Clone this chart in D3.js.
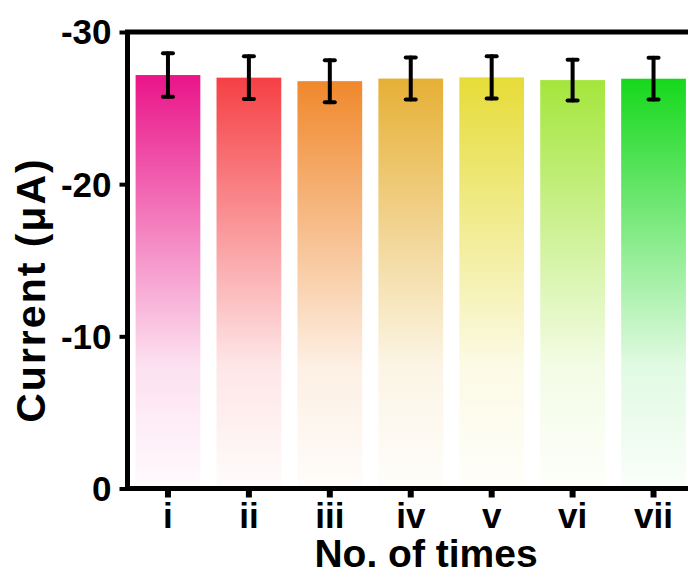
<!doctype html>
<html lang="en">
<head>
<meta charset="UTF-8" />
<title>Current vs No. of times</title>
<script src="https://d3js.org/d3.v7.min.js"></script>
<style>
  html, body { margin: 0; padding: 0; background: #fff; }
  text { font-family: "Liberation Sans", Arial, sans-serif; font-weight: bold; }
</style>
</head>
<body>
<div id="chart"></div>
<script>
var categories = ['i', 'ii', 'iii', 'iv', 'v', 'vi', 'vii'];
var currents = [-27.17, -27.0, -26.77, -26.94, -27.02, -26.84, -26.93];
var errors = [1.43, 1.41, 1.38, 1.38, 1.39, 1.34, 1.37];
var barColors = ['#ea1489', '#f54045', '#f0882c', '#e6b035', '#e6dc38', '#a4e63c', '#16d81c'];
var yTicks = [0, -10, -20, -30];

var width = 688, height = 583;

var svg = d3.select('#chart')
    .append('svg')
    .attr('width', width)
    .attr('height', height);

var x0 = 127.5, x1 = 694, yTop = 32, yBottom = 488.5;

var xScale = d3.scaleBand()
    .domain(categories)
    .range([x0, x1])
    .paddingInner(0.2)
    .paddingOuter(0.1);

// y: 0 at bottom, -30 at top
var yScale = d3.scaleLinear()
    .domain([0, -30])
    .range([yBottom, yTop]);

// vertical fade, colour at top -> almost white at the bottom
var defs = svg.append('defs');
categories.forEach(function (c, i) {
    var g = defs.append('linearGradient')
        .attr('id', 'grad' + i)
        .attr('x1', 0).attr('y1', 0)
        .attr('x2', 0).attr('y2', 1);
    g.append('stop').attr('offset', '0%').attr('stop-color', barColors[i]).attr('stop-opacity', 1);
    g.append('stop').attr('offset', '40%').attr('stop-color', barColors[i]).attr('stop-opacity', 0.5);
    g.append('stop').attr('offset', '70%').attr('stop-color', barColors[i]).attr('stop-opacity', 0.13);
    g.append('stop').attr('offset', '100%').attr('stop-color', barColors[i]).attr('stop-opacity', 0.02);
});

// bars
svg.selectAll('.bar')
    .data(categories)
    .enter()
    .append('rect')
    .attr('class', 'bar')
    .attr('x', function (d) { return xScale(d); })
    .attr('y', function (d, i) { return yScale(currents[i]); })
    .attr('width', xScale.bandwidth())
    .attr('height', function (d, i) { return yScale(0) - yScale(currents[i]); })
    .attr('fill', function (d, i) { return 'url(#grad' + i + ')'; });

// error bars
var eb = svg.selectAll('.err')
    .data(categories)
    .enter()
    .append('g')
    .attr('class', 'err')
    .attr('stroke', '#000')
    .attr('stroke-linecap', 'round');

eb.append('line')
    .attr('x1', function (d) { return xScale(d) + xScale.bandwidth() / 2; })
    .attr('x2', function (d) { return xScale(d) + xScale.bandwidth() / 2; })
    .attr('y1', function (d, i) { return yScale(currents[i] - errors[i]); })
    .attr('y2', function (d, i) { return yScale(currents[i] + errors[i]); })
    .attr('stroke-width', 4);

[-1, 1].forEach(function (sign) {
    eb.append('line')
        .attr('x1', function (d) { return xScale(d) + xScale.bandwidth() / 2 - 5; })
        .attr('x2', function (d) { return xScale(d) + xScale.bandwidth() / 2 + 5; })
        .attr('y1', function (d, i) { return yScale(currents[i] + sign * errors[i]); })
        .attr('y2', function (d, i) { return yScale(currents[i] + sign * errors[i]); })
        .attr('stroke-width', 4);
});

// frame / axes
var yAxis = svg.append('g')
    .attr('transform', 'translate(' + x0 + ',0)')
    .call(d3.axisLeft(yScale).tickValues(yTicks).tickSize(8).tickPadding(8).tickFormat(d3.format('d')));
yAxis.select('.domain').remove();
yAxis.selectAll('.tick line').attr('stroke', '#000').attr('stroke-width', 4);
yAxis.selectAll('.tick text')
    .attr('font-size', '35px')
    .attr('fill', '#000')
    .attr('dy', '0.34em')
    .text(function (d) { return d === 0 ? '0' : '-' + Math.abs(d); });

var xAxis = svg.append('g')
    .attr('transform', 'translate(0,' + yBottom + ')')
    .call(d3.axisBottom(xScale).tickSize(9).tickPadding(6));
xAxis.select('.domain').remove();
xAxis.selectAll('.tick line').attr('stroke', '#000').attr('stroke-width', 6);
xAxis.selectAll('.tick text')
    .attr('font-size', '35px')
    .attr('fill', '#000');

svg.append('rect')
    .attr('x', x0)
    .attr('y', yTop)
    .attr('width', x1 - x0)
    .attr('height', yBottom - yTop)
    .attr('fill', 'none')
    .attr('stroke', '#000')
    .attr('stroke-width', 5);

// axis titles
svg.append('text')
    .attr('x', 426)
    .attr('y', 567)
    .attr('text-anchor', 'middle')
    .attr('font-size', '39px')
    .attr('fill', '#000')
    .text('No. of times');

svg.append('text')
    .attr('transform', 'translate(45,290) rotate(-90)')
    .attr('text-anchor', 'middle')
    .attr('font-size', '41px')
    .attr('letter-spacing', '2px')
    .attr('fill', '#000')
    .text('Current (μA)');
</script>
</body>
</html>
